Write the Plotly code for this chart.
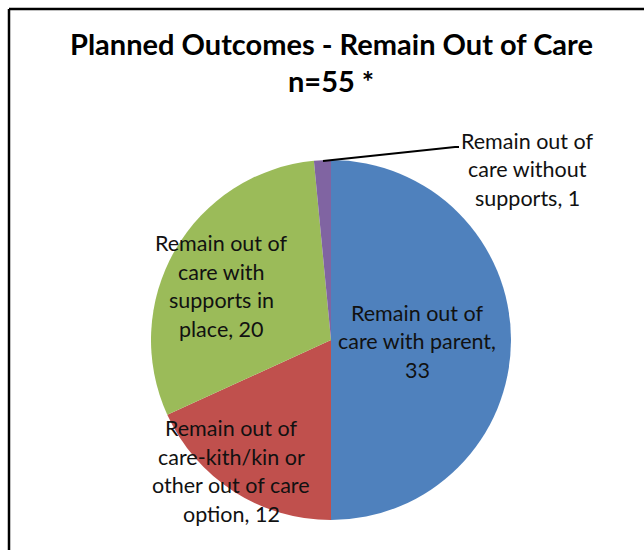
import plotly.graph_objects as go

# Planned outcomes for children remaining out of care
categories = [
    "Remain out of care with parent",
    "Remain out of care-kith/kin or other out of care option",
    "Remain out of care with supports in place",
    "Remain out of care without supports",
]
values = [33, 12, 20, 1]
colors = ["#4F81BD", "#C0504D", "#9BBB59", "#8064A2"]

# Wrapped label lines per slice (value appended at the end)
label_lines = [
    ["Remain out of", "care with parent,", "{v}"],
    ["Remain out of", "care-kith/kin or", "other out of care", "option, {v}"],
    ["Remain out of", "care with", "supports in", "place, {v}"],
    ["Remain out of", "care without", "supports, {v}"],
]
# Label centre positions in pixels (x, y of the first line)
label_pos = [(417, 313), (231, 428), (221, 243), (527, 141)]

W, H = 644, 550
FONT = "Lato"
LINE_H = 28.5

cx, cy, r = 331, 340, 180

fig = go.Figure(
    go.Pie(
        labels=categories,
        values=values,
        sort=False,
        direction="clockwise",
        rotation=0,
        marker=dict(colors=colors, line=dict(width=0)),
        textinfo="none",
        hoverinfo="label+value",
        showlegend=False,
        domain=dict(
            x=[(cx - r) / W, (cx + r) / W],
            y=[(H - cy - r) / H, (H - cy + r) / H],
        ),
    )
)


def px(x):
    return x / W


def py(y):
    return 1 - y / H


annotations = []
for lines, v, (lx, ly) in zip(label_lines, values, label_pos):
    for i, line in enumerate(lines):
        annotations.append(
            dict(
                x=px(lx), y=py(ly + i * LINE_H),
                xref="paper", yref="paper",
                text=line.format(v=v),
                showarrow=False,
                xanchor="center", yanchor="middle",
                font=dict(family=FONT, size=21.5, color="#111111"),
            )
        )

# Chart title
annotations.append(dict(
    x=px(331), y=py(44), xref="paper", yref="paper",
    text="<b>Planned Outcomes - Remain Out of Care</b>",
    showarrow=False, xanchor="center", yanchor="middle",
    font=dict(family=FONT, size=29, color="#000000"),
))
annotations.append(dict(
    x=px(331), y=py(81), xref="paper", yref="paper",
    text="<b>n=55 *</b>",
    showarrow=False, xanchor="center", yanchor="middle",
    font=dict(family=FONT, size=29, color="#000000"),
))

shapes = [
    # chart frame (top and left edges)
    dict(type="line", xref="paper", yref="paper",
         x0=px(9), y0=py(9), x1=px(W + 5), y1=py(9),
         line=dict(color="black", width=2.5)),
    dict(type="line", xref="paper", yref="paper",
         x0=px(9), y0=py(9), x1=px(9), y1=py(H + 5),
         line=dict(color="black", width=2.5)),
    # leader line for the small slice
    dict(type="path", xref="paper", yref="paper",
         path=f"M {px(323)},{py(161)} L {px(455)},{py(147)} L {px(459)},{py(147)}",
         line=dict(color="black", width=2)),
]

fig.update_layout(
    width=W, height=H,
    margin=dict(l=0, r=0, t=0, b=0),
    paper_bgcolor="white",
    plot_bgcolor="white",
    annotations=annotations,
    shapes=shapes,
)

fig.write_html("out.html")
